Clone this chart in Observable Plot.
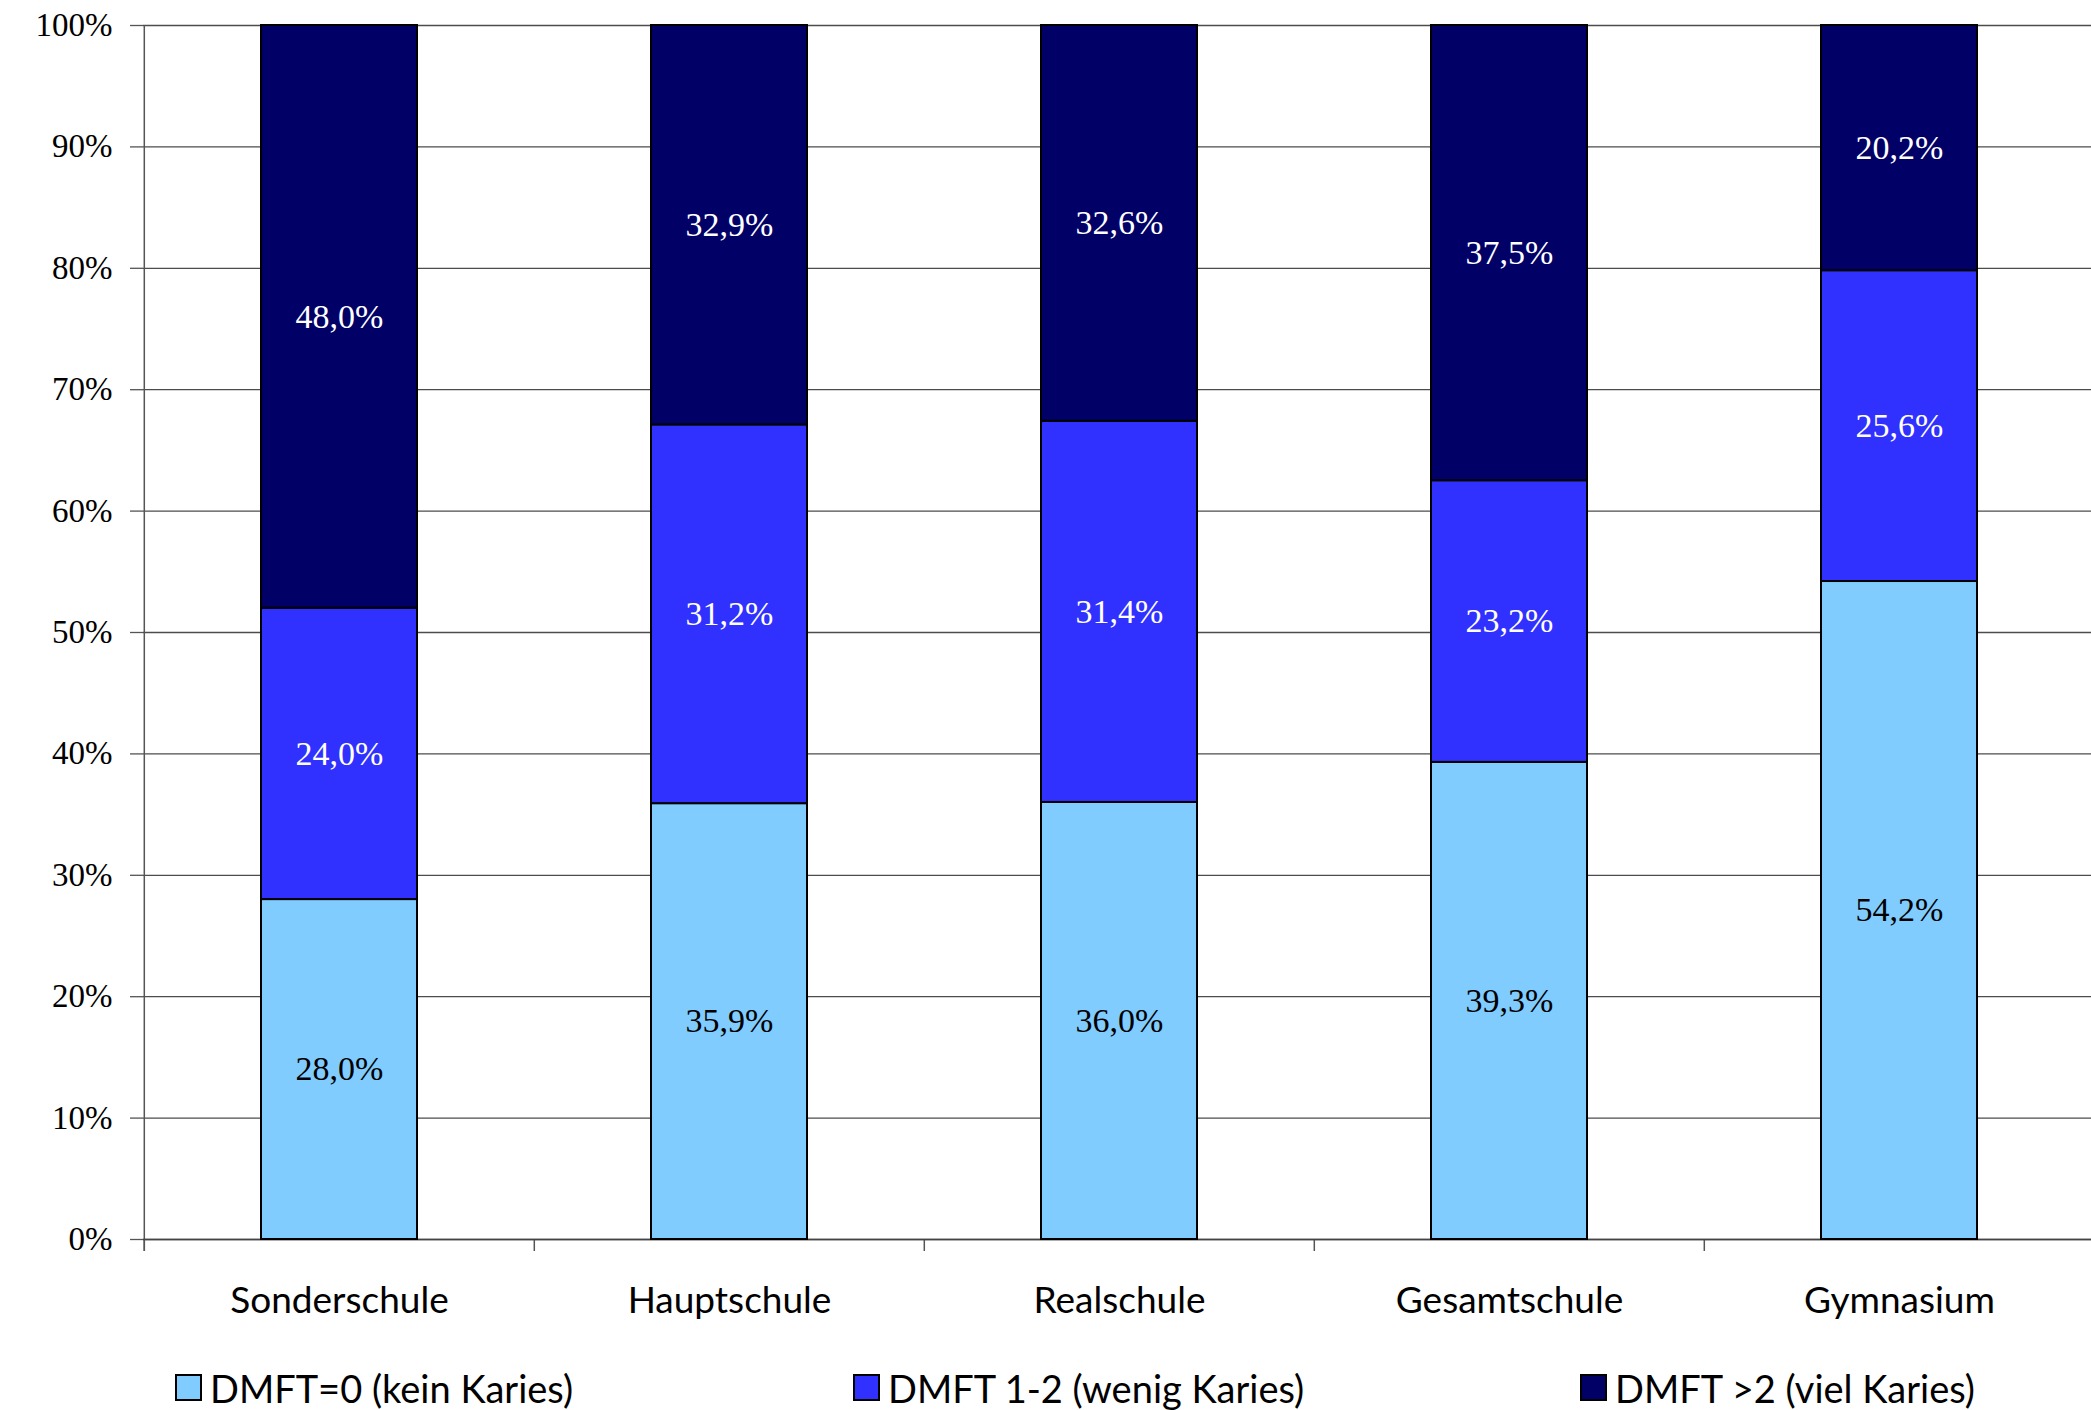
<!DOCTYPE html>
<html>
<head>
<meta charset="utf-8">
<script src="https://cdn.jsdelivr.net/npm/d3@7"></script>
<script src="https://cdn.jsdelivr.net/npm/@observablehq/plot@0.6"></script>
<style>
  html, body { margin: 0; padding: 0; background: #fff; overflow: hidden; }
  #chart { width: 2091px; overflow: hidden; }
  #legend { position: relative; width: 2091px; height: 65px; font-family: Lato, "Open Sans", sans-serif; font-size: 38px; color: #000; }
  .item { position: absolute; top: 10px; height: 65px; display: flex; align-items: center; white-space: nowrap; }
  .swatch { width: 23px; height: 23px; border: 2px solid #000; margin-right: 8px; }
</style>
</head>
<body>
<div id="chart"></div>
<div id="legend"></div>
<script>
// Schools and DMFT groups
const schools = ["Sonderschule", "Hauptschule", "Realschule", "Gesamtschule", "Gymnasium"];
const groups = ["DMFT=0 (kein Karies)", "DMFT 1-2 (wenig Karies)", "DMFT >2 (viel Karies)"];
const colors = ["#80ccff", "#3030ff", "#000066"];

// Share of pupils per group (%), one entry per school
const keinKaries = [28.0, 35.9, 36.0, 39.3, 54.2];
const wenigKaries = [24.0, 31.2, 31.4, 23.2, 25.6];
const vielKaries = [48.0, 32.9, 32.6, 37.5, 20.2];

const yTicks = [0, 10, 20, 30, 40, 50, 60, 70, 80, 90, 100];

// Long table with the base of every stacked segment
const series = [keinKaries, wenigKaries, vielKaries];
const rows = [];
schools.forEach((school, i) => {
  let base = 0;
  series.forEach((values, g) => {
    rows.push({school, group: groups[g], value: values[i], base});
    base += values[i];
  });
});

const fmt = v => v.toFixed(1).replace(".", ",") + "%";

const width = 2091, height = 1345;
const marginLeft = 143, marginRight = -4, marginTop = 25, marginBottom = 106;
const step = (width - marginLeft - marginRight) / schools.length;

const serif = "'Liberation Serif', 'DejaVu Serif', serif";
const sans = "Lato, 'Open Sans', sans-serif";

const chart = Plot.plot({
  width, height, marginLeft, marginRight, marginTop, marginBottom,
  style: {background: "#fff", color: "#000", overflow: "hidden"},
  x: {domain: schools, paddingInner: 0.6, paddingOuter: 0.3},
  y: {domain: [0, 100]},
  color: {domain: groups, range: colors},
  marks: [
    Plot.gridY(yTicks, {stroke: "#000", strokeOpacity: 0.7, strokeWidth: 1.3}),
    Plot.axisY(yTicks, {
      label: null, tickSize: 13, tickPadding: 18, tickFormat: d => `${d}%`,
      fontSize: 33, fontFamily: serif, stroke: "#555", strokeWidth: 1.3
    }),
    Plot.axisX({label: null, tickSize: 0, tickPadding: 47, fontSize: 37, fontFamily: sans}),
    // vertical axis line and category boundary ticks
    Plot.ruleX([schools[0]], {x: d => d, dx: -step / 2, y1: 100, y2: 0, insetBottom: -12, stroke: "#555", strokeWidth: 1.5}),
    Plot.ruleX(schools, {x: d => d, dx: -step / 2, y1: 0, y2: 0, insetBottom: -12, stroke: "#555", strokeWidth: 1.5}),
    Plot.ruleY([0], {stroke: "#444", strokeWidth: 1.5}),
    Plot.barY(rows, {x: "school", y1: "base", y2: d => d.base + d.value, fill: "group", stroke: "#000", strokeWidth: 2}),
    Plot.text(rows.filter(d => d.group === groups[0]), {
      x: "school", y: d => d.base + d.value / 2, text: d => fmt(d.value),
      fill: "#000", fontSize: 34, fontFamily: serif
    }),
    Plot.text(rows.filter(d => d.group !== groups[0]), {
      x: "school", y: d => d.base + d.value / 2, text: d => fmt(d.value),
      fill: "#fff", fontSize: 34, fontFamily: serif
    })
  ]
});
document.getElementById("chart").append(chart);

// Legend below the chart
const legendLefts = [175, 853, 1580];
const legend = document.getElementById("legend");
groups.forEach((g, i) => {
  const item = document.createElement("div");
  item.className = "item";
  item.style.left = legendLefts[i] + "px";
  const sw = document.createElement("div");
  sw.className = "swatch";
  sw.style.background = colors[i];
  const label = document.createElement("span");
  label.textContent = g;
  item.append(sw, label);
  legend.append(item);
});
</script>
</body>
</html>
